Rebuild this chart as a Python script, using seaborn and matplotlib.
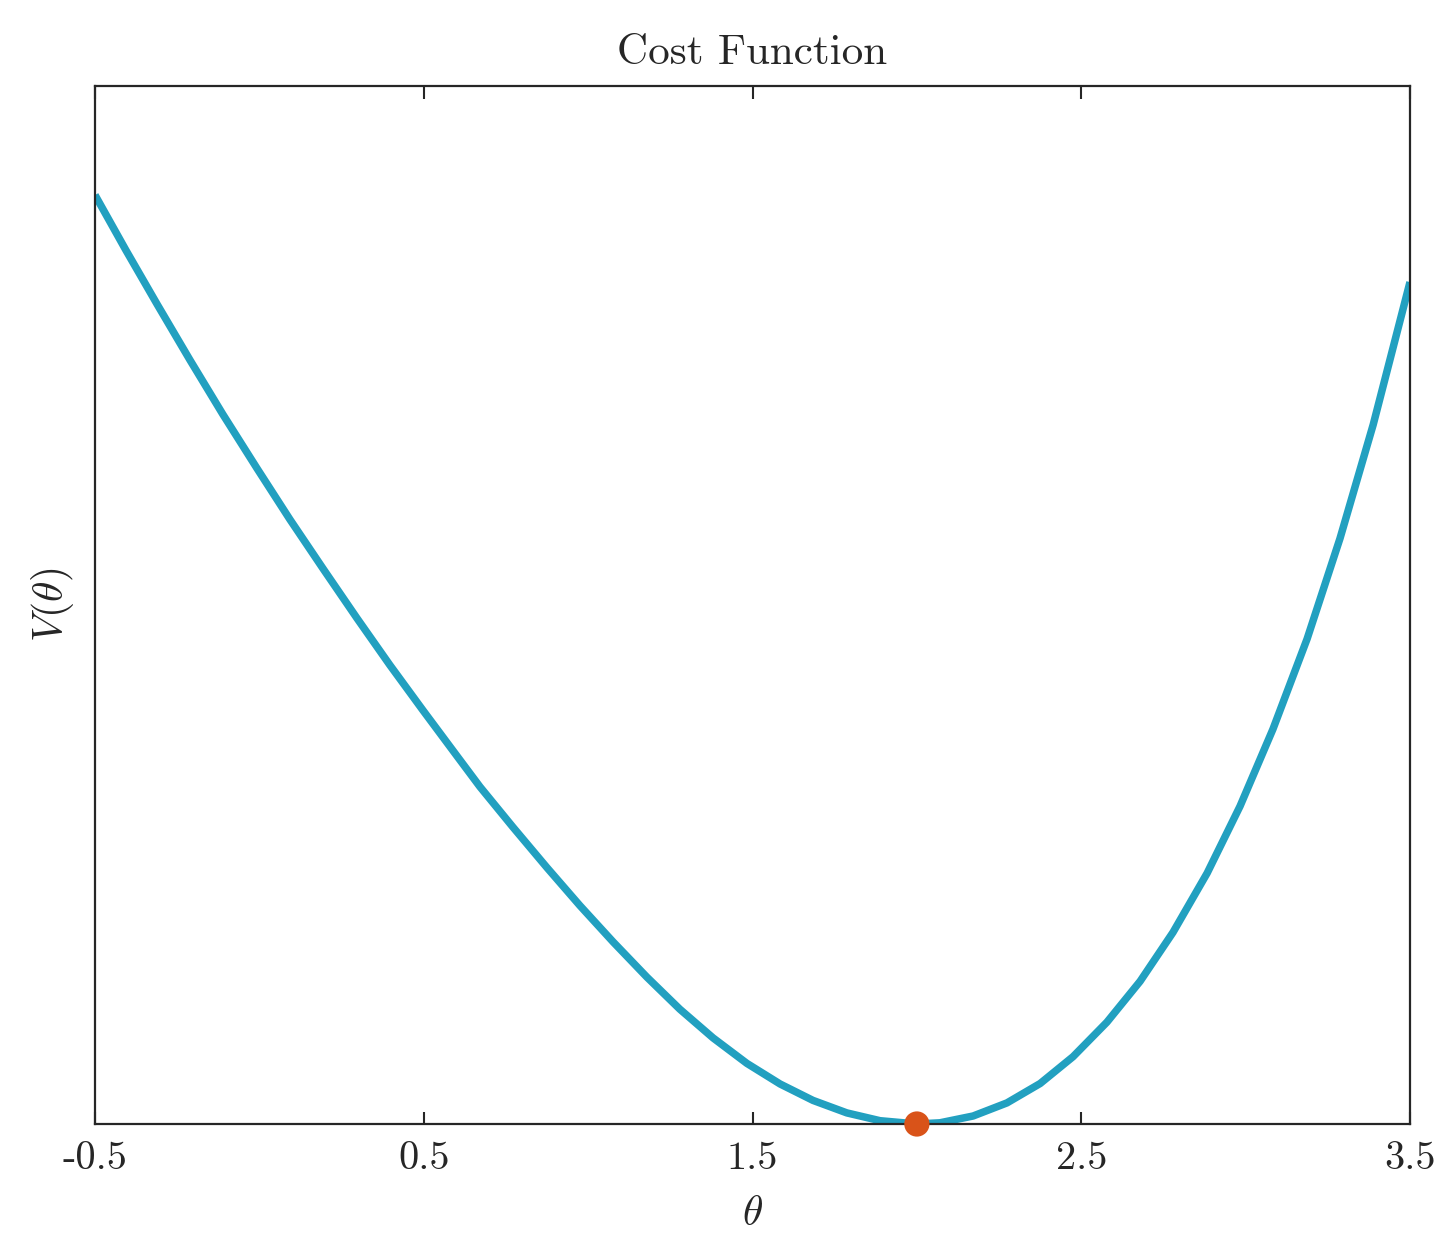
import numpy as np
import pandas as pd
import matplotlib
matplotlib.use("Agg")
import matplotlib.pyplot as plt
import seaborn as sns

# ---- data ----
theta = [-0.500, -0.406, -0.311, -0.211, -0.111, -0.007, 0.093, 0.194, 0.297,
         0.397, 0.498, 0.604, 0.671, 0.771, 0.875, 0.975, 1.076, 1.179,
         1.279, 1.380, 1.483, 1.584, 1.684, 1.787, 1.888, 2.000,
         2.070, 2.171, 2.274, 2.375, 2.475, 2.578, 2.679, 2.779, 2.883,
         2.983, 3.083, 3.187, 3.287, 3.388, 3.500]
cost = [9.290, 8.738, 8.197, 7.639, 7.096, 6.555, 6.045, 5.552, 5.057,
        4.589, 4.135, 3.667, 3.372, 2.970, 2.563, 2.184, 1.821, 1.468,
        1.148, 0.861, 0.606, 0.400, 0.236, 0.111, 0.033, 0.000,
        0.012, 0.080, 0.211, 0.405, 0.673, 1.018, 1.427, 1.916, 2.509,
        3.178, 3.948, 4.851, 5.855, 6.993, 8.419]
min_theta = [2.0]
min_cost = [0.0]
xtick_vals = [-0.5, 0.5, 1.5, 2.5, 3.5]
xtick_labels = ["-0.5", "0.5", "1.5", "2.5", "3.5"]

line_color = "#22A0C0"
dot_color = "#D95319"

sns.set_theme(style="white")
plt.rcParams["font.family"] = ["cmr10", "DejaVu Serif"]
plt.rcParams["mathtext.fontset"] = "cm"
plt.rcParams["axes.unicode_minus"] = False

df = pd.DataFrame({"theta": theta, "V": cost})
dmin = pd.DataFrame({"theta": min_theta, "V": min_cost})

fig = plt.figure(figsize=(14.42, 12.34), dpi=100)
ax = fig.add_axes([95 / 1442, 1 - 1124 / 1234, (1410 - 95) / 1442, (1124 - 86) / 1234])

sns.lineplot(data=df, x="theta", y="V", ax=ax, color=line_color, linewidth=5.4,
             solid_capstyle="butt", solid_joinstyle="round")
sns.scatterplot(data=dmin, x="theta", y="V", ax=ax, color=dot_color, s=330,
                edgecolor="none", clip_on=False, zorder=5)

ax.set_xlim(-0.5, 3.5)
ax.set_ylim(0, 10.38)
ax.set_xticks(xtick_vals)
ax.set_xticklabels(xtick_labels)
ax.set_yticks([])

for sp in ax.spines.values():
    sp.set_color("#262626")
    sp.set_linewidth(1.6)
    sp.set_visible(True)

ax.tick_params(axis="x", direction="in", length=9, width=1.5, color="#262626",
               top=True, bottom=True, labelsize=29, labelcolor="#262626", pad=12)

ax.set_title("Cost Function", fontsize=31, color="#262626", pad=16)
ax.set_xlabel(r"$\theta$", fontsize=30, color="#262626", labelpad=14)
ax.set_ylabel(r"$V(\theta)$", fontsize=30, color="#262626", labelpad=14)

fig.savefig("out.png", dpi=100)
